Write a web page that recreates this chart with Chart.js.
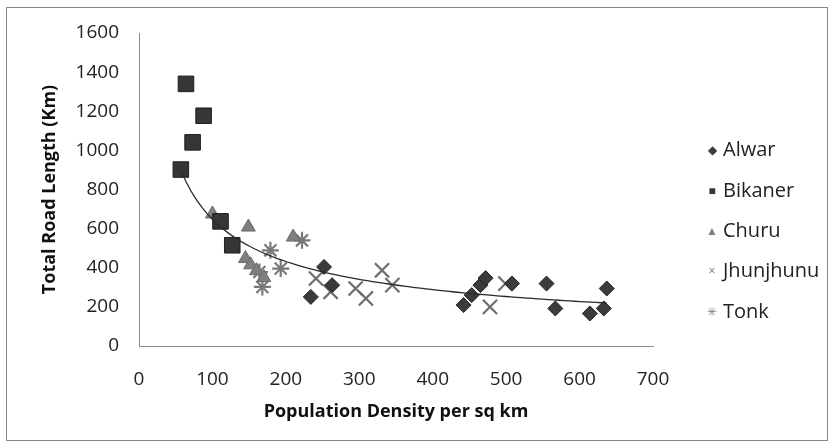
<!DOCTYPE html>
<html lang="en">
<head>
<meta charset="UTF-8">
<title>Total Road Length vs Population Density</title>
<script src="https://cdn.jsdelivr.net/npm/chart.js"></script>
<style>
  body { margin: 0; background: #fff; font-family: 'Open Sans', sans-serif; }
  #wrap { position: relative; width: 833px; height: 448px; }
  #legend { position: absolute; left: 704px; top: 0; color: #222; font-size: 20px; }
  #legend div { position: absolute; white-space: nowrap; line-height: 20px; }
  #legend span.m { display: inline-block; width: 16px; text-align: center; font-size: 12px; margin-right: 3px; vertical-align: 2px; }
</style>
</head>
<body>
<div id="wrap">
  <canvas id="roadChart" width="833" height="448"></canvas>
  <div id="legend"></div>
</div>
<script>
// values
const alwarX = [234, 252, 263, 442, 453, 465, 472, 508, 555, 567, 614, 633, 637];
const alwarY = [251, 404, 311, 209, 260, 311, 347, 319, 319, 192, 166, 192, 294];
const bikanerX = [57, 64, 73, 88, 111, 127];
const bikanerY = [902, 1340, 1041, 1177, 637, 515];
const churuX = [100, 149, 210, 145, 152, 160, 170];
const churuY = [675, 608, 557, 447, 415, 385, 350];
const jhunjhunuX = [241, 261, 295, 309, 331, 345, 478, 499];
const jhunjhunuY = [345, 277, 294, 243, 387, 311, 200, 319];
const tonkX = [164, 168, 179, 193, 222];
const tonkY = [378, 302, 489, 396, 540];

const xTicks = [0, 100, 200, 300, 400, 500, 600, 700];
const yTicks = [0, 200, 400, 600, 800, 1000, 1200, 1400, 1600];

// power trendline y = a * x^b, coefficients
const trendA = 9531;
const trendB = -0.584;

const series = [
    { label: 'Alwar', xs: alwarX, ys: alwarY, style: 'rectRot', r: 7.5, fill: '#3b3b3b', edge: '#262626', w: 1, glyph: '\u25C6' },
    { label: 'Bikaner', xs: bikanerX, ys: bikanerY, style: 'rect', r: 11, fill: '#363636', edge: '#1e1e1e', w: 1, glyph: '\u25A0' },
    { label: 'Churu', xs: churuX, ys: churuY, style: 'triangle', r: 8, fill: '#808080', edge: '#6a6a6a', w: 1, glyph: '\u25B2' },
    { label: 'Jhunjhunu', xs: jhunjhunuX, ys: jhunjhunuY, style: 'crossRot', r: 10, fill: '#6e6e6e', edge: '#6e6e6e', w: 2.2, glyph: '\u00D7' },
    { label: 'Tonk', xs: tonkX, ys: tonkY, style: 'star', r: 8.5, fill: '#808080', edge: '#7a7a7a', w: 2.2, glyph: '\u2733' }
];

function toPoints(xs, ys) {
    return xs.map((x, i) => ({ x: x, y: ys[i] }));
}

function trendPoints() {
    let allX = [];
    series.forEach(s => { allX = allX.concat(s.xs); });
    const lo = Math.min(...allX), hi = Math.max(...allX);
    const pts = [];
    for (let i = 0; i <= 80; i++) {
        const x = lo + (hi - lo) * i / 80;
        pts.push({ x: x, y: trendA * Math.pow(x, trendB) });
    }
    return pts;
}

const datasets = series.map(s => ({
    label: s.label,
    data: toPoints(s.xs, s.ys),
    pointStyle: s.style,
    pointRadius: s.r,
    backgroundColor: s.fill,
    borderColor: s.edge,
    borderWidth: s.w,
    showLine: false
}));

datasets.push({
    label: 'Trend',
    data: trendPoints(),
    showLine: true,
    pointRadius: 0,
    borderColor: '#2a2a2a',
    borderWidth: 1.3,
    fill: false,
    order: -1
});

const frame = {
    id: 'frame',
    beforeDraw(chart) {
        const ctx = chart.ctx;
        ctx.save();
        ctx.fillStyle = '#fff';
        ctx.fillRect(0, 0, chart.width, chart.height);
        ctx.strokeStyle = '#8a8a8a';
        ctx.lineWidth = 1;
        ctx.strokeRect(6.5, 7.5, 821, 433);
        ctx.restore();
    }
};

const tickFont = { family: "'Open Sans', sans-serif", size: 19 };
const titleFont = { family: "'Open Sans', sans-serif", size: 18, weight: 'bold' };

new Chart(document.getElementById('roadChart'), {
    type: 'scatter',
    data: { datasets: datasets },
    options: {
        responsive: false,
        animation: false,
        layout: { padding: { left: 0, right: 180, top: 33, bottom: 0 } },
        plugins: { legend: { display: false }, tooltip: { enabled: false } },
        scales: {
            x: {
                type: 'linear', min: 0, max: 700,
                afterBuildTicks: axis => { axis.ticks = xTicks.map(v => ({ value: v })); },
                afterFit: axis => { axis.height = 102; },
                grid: { display: false, drawTicks: false },
                border: { color: '#8c8c8c', width: 1 },
                ticks: { color: '#222', font: tickFont, padding: 22, maxRotation: 0, callback: v => String(v) },
                title: { display: true, text: 'Population Density per sq km', color: '#111', font: titleFont, padding: { top: 0, bottom: 25 } }
            },
            y: {
                type: 'linear', min: 0, max: 1600,
                afterBuildTicks: axis => { axis.ticks = yTicks.map(v => ({ value: v })); },
                afterFit: axis => { axis.width = 139; },
                grid: { display: false, drawTicks: false },
                border: { color: '#8c8c8c', width: 1 },
                ticks: { color: '#222', font: tickFont, padding: 20, callback: v => String(v) },
                title: { display: true, text: 'Total Road Length (Km)', color: '#111', font: titleFont, padding: { top: 39, bottom: 0 } }
            }
        }
    },
    plugins: [frame]
});

// legend as text, placed like the reference
const legendTops = [149, 190, 230, 270, 311];
const legend = document.getElementById('legend');
series.forEach((s, i) => {
    const row = document.createElement('div');
    row.style.top = (legendTops[i] - 10) + 'px';
    const m = document.createElement('span');
    m.className = 'm';
    m.style.color = s.fill;
    m.textContent = s.glyph;
    row.appendChild(m);
    row.appendChild(document.createTextNode(s.label));
    legend.appendChild(row);
});
</script>
</body>
</html>
